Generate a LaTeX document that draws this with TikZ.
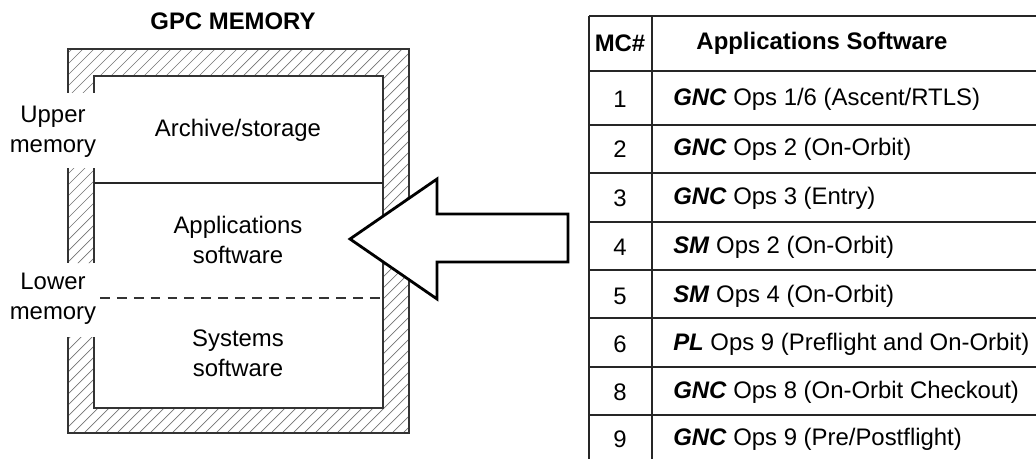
\documentclass[tikz,border=0pt]{standalone}
\usepackage{fontspec}
\setmainfont{Liberation Sans}
\begin{document}
\begin{tikzpicture}[x=0.025cm, y=-0.025cm,
    txt/.style={font=\fontsize{17}{21.3}\selectfont, inner sep=0pt, align=center},
    hdr/.style={txt, font=\fontsize{17}{21.3}\selectfont\bfseries},
    wall/.style={draw=black!80, line width=1pt},
    grid/.style={draw=black!85, line width=1.1pt}]
\useasboundingbox (0,0) rectangle (1036,459);

\begin{scope}
\clip (68,49) rectangle (409,76) (383,49) rectangle (409,433) (68,408) rectangle (409,433)
      (68,49) rectangle (94,93) (68,168) rectangle (94,263) (68,337) rectangle (94,433);
\foreach \c in {-460,-449,...,420}
{
    \draw[black!55, line width=.5pt] (\c,460)--(\c+460,0);
}
\end{scope}

\draw[wall] (68,93)--(68,49)--(409,49)--(409,433)--(68,433)--(68,337);
\draw[wall] (68,168)--(68,263);
\draw[wall] (94,93)--(94,76)--(383,76)--(383,408)--(94,408)--(94,337);
\draw[wall] (94,168)--(94,263);
\draw[black!85, line width=1.4pt] (94,183)--(383,183);
\draw[black!80, line width=1pt, dash pattern=on 7pt off 5pt] (100,298)--(383,298);

\node[hdr] (gpc) at (233,21) {GPC MEMORY};
\node[txt] (archive) at (238,130) {Archive/storage};
\node[txt] (apps) at (238,240) {Applications\\software};
\node[txt] (sys) at (238,353) {Systems\\software};
\node[txt] (upper) at (53,132) {Upper\\memory};
\node[txt] (lower) at (53,299) {Lower\\memory};

\draw[line width=2pt, fill=white, line join=miter]
    (350,239)--(437,179)--(437,214)--(568,214)--(568,262)--(437,262)--(437,299)--cycle;

\foreach \y in {16,71,125,173,222,270,318,367,415}
{
    \draw[grid] (589,\y)--(1036,\y);
}
\draw[grid] (589,16)--(589,459);
\draw[grid] (652,16)--(652,459);

\node[hdr] (mc) at (620,43) {MC\#};
\node[hdr] (sw) at (822,43) {Applications Software};
\foreach \y/\n/\p/\s in {99/1/GNC/{Ops 1/6 (Ascent/RTLS)}, 149/2/GNC/{Ops 2 (On-Orbit)},
    198/3/GNC/{Ops 3 (Entry)}, 247/4/SM/{Ops 2 (On-Orbit)}, 296/5/SM/{Ops 4 (On-Orbit)},
    344/6/PL/{Ops 9 (Preflight and On-Orbit)}, 392/8/GNC/{Ops 8 (On-Orbit Checkout)},
    439/9/GNC/{Ops 9 (Pre/Postflight)}}
{
    \node[txt] (mc\n) at (620,\y) {\n};
    \node[txt, anchor=west] (sw\n) at (673,\y) {\textbf{\textit{\p}} \s};
}
\end{tikzpicture}
\end{document}
